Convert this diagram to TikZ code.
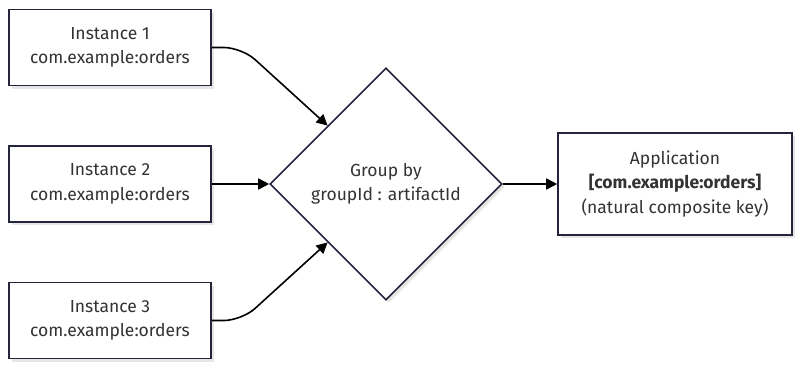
\documentclass[tikz,border=0pt]{standalone}
\usepackage{fontspec}
\setmainfont{Fira Sans}
\usepackage{tikz}
\usetikzlibrary{arrows.meta,positioning,shapes.geometric,shadows}
\definecolor{edgeink}{HTML}{24243A}
\definecolor{textink}{HTML}{333333}
\definecolor{shade}{HTML}{E6E6E6}

\tikzset{
  base/.style={draw=edgeink, line width=1.6pt, fill=white, text=textink, align=center,
    font=\fontsize{17.5}{24.5}\selectfont,
    drop shadow={shadow xshift=3pt, shadow yshift=-3pt, fill=shade, opacity=1}},
  instbox/.style={base, rectangle, minimum width=202pt, minimum height=76pt, inner sep=0pt},
  appbox/.style={base, rectangle, minimum width=234pt, minimum height=102pt, inner sep=0pt},
  groupdia/.style={base, diamond, minimum width=232pt, minimum height=232pt, inner sep=0pt},
  flow/.style={line width=1.6pt, black, -{Triangle[length=11pt,width=11pt]}, rounded corners=18pt}
}

\begin{document}
\begin{tikzpicture}[x=1pt,y=-1pt]
  \useasboundingbox (0,0) rectangle (800,368);

  \node[instbox] (inst1) at (110,47.5) {Instance 1\\com.example:orders};
  \node[instbox] (inst2) at (110,184) {Instance 2\\com.example:orders};
  \node[instbox] (inst3) at (110,320.5) {Instance 3\\com.example:orders};

  \node[groupdia] (group) at (386,184) {Group by\\groupId : artifactId};

  \node[appbox] (app) at (675,184) {Application\\\textbf{[com.example:orders]}\\(natural composite key)};

  \draw[flow] (inst1.east) -- ++(30,0) -- (group.north west);
  \draw[flow] (inst2.east) -- (group.west);
  \draw[flow] (inst3.east) -- ++(30,0) -- (group.south west);
  \draw[flow] (group.east) -- (app.west);
\end{tikzpicture}
\end{document}
